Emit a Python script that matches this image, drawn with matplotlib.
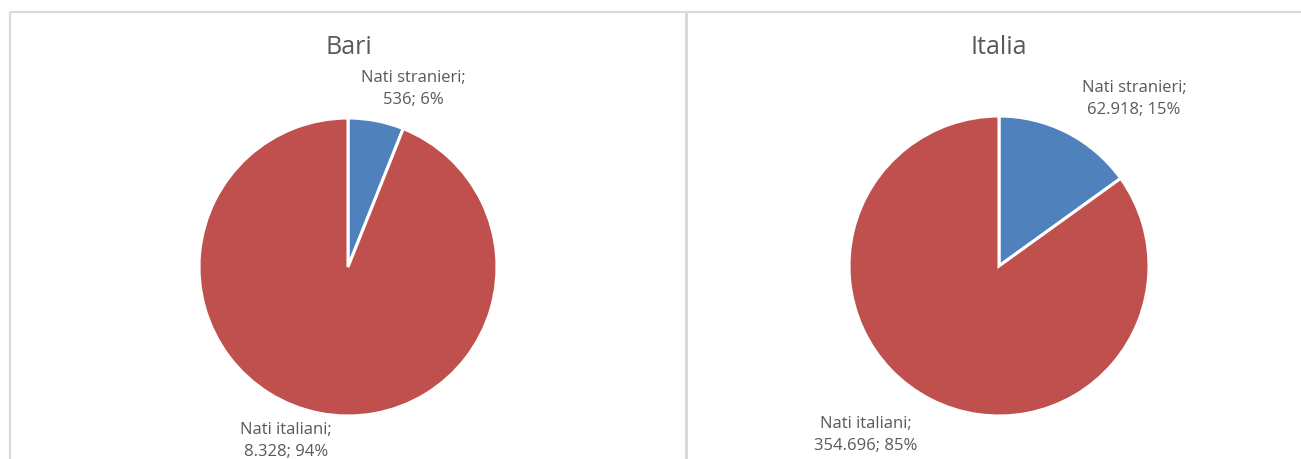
import matplotlib.pyplot as plt
from matplotlib.patches import Rectangle

titles = ['Bari', 'Italia']
categories = ['Nati stranieri', 'Nati italiani']
bari_values = [536, 8328]
italia_values = [62918, 354696]
colors = ['#4F81BD', '#C0504D']
text_col = '#595959'

W, H = 1301, 459
fig = plt.figure(figsize=(W/100, H/100), dpi=100)
plt.rcParams['font.family'] = ['Open Sans', 'DejaVu Sans']

# overlay in pixel coords for frames and text
ov = fig.add_axes([0, 0, 1, 1])
ov.set_xlim(0, W)
ov.set_ylim(H, 0)
ov.axis('off')
ov.add_patch(Rectangle((10, 12), 676, 480, fill=False, ec='#D9D9D9', lw=1.5))
ov.add_patch(Rectangle((687, 12), 640, 480, fill=False, ec='#D9D9D9', lw=1.5))

def fmt(v):
    return f'{v:,}'.replace(',', '.')

# pie centre (px), radius (px), title pos, label positions
panels = [
    dict(vals=bari_values, c=(348, 267), r=149, title=(349, 48),
         lab=[(413, 89), (286, 441)]),
    dict(vals=italia_values, c=(999, 266), r=150, title=(999, 47),
         lab=[(1134, 99), (866, 435)]),
]

for t, p in zip(titles, panels):
    cx, cy = p['c']
    r = p['r']
    ax = fig.add_axes([(cx - r)/W, (H - cy - r)/H, 2*r/W, 2*r/H])
    ax.pie(p['vals'], colors=colors, startangle=90, counterclock=False,
           radius=1, wedgeprops=dict(edgecolor='white', linewidth=2.2))
    ax.set_xlim(-1, 1)
    ax.set_ylim(-1, 1)
    ax.set_aspect('equal')
    ax.axis('off')
    ov.text(p['title'][0], p['title'][1], t, ha='center', va='center',
            fontsize=18, color=text_col)
    tot = sum(p['vals'])
    for name, v, (lx, ly) in zip(categories, p['vals'], p['lab']):
        ov.text(lx, ly, f'{name};\n{fmt(v)}; {round(100*v/tot)}%',
                ha='center', va='center', fontsize=12, color=text_col,
                linespacing=1.5)

fig.savefig('out.png', dpi=100)
